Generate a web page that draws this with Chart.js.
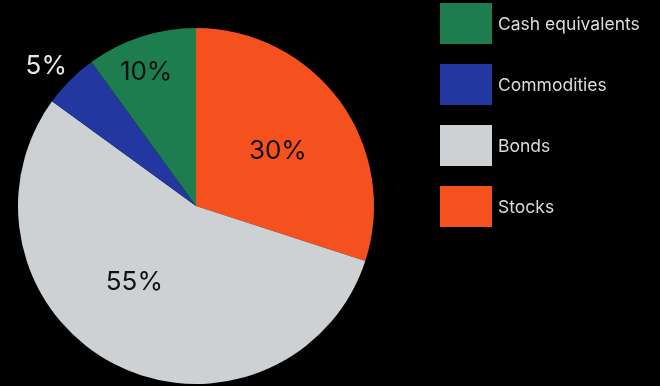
<!DOCTYPE html>
<html lang="en">
<head>
    <meta charset="UTF-8">
    <title>Asset Allocation Pie</title>
    <script src="https://cdn.jsdelivr.net/npm/chart.js"></script>
    <style>
        html, body { margin: 0; padding: 0; background: #000; }
        #wrap { width: 660px; height: 386px; }
    </style>
</head>
<body>
<div id="wrap"><canvas id="myChart" width="660" height="386"></canvas></div>
<script>
    // slices clockwise from 12 o'clock
    const categories = ['Stocks', 'Bonds', 'Commodities', 'Cash equivalents'];
    const shares = [30, 55, 5, 10];
    const sliceColors = ['#F5511F', '#CDD1D4', '#2238A0', '#1D7D4E'];
    // legend reads bottom-up compared to the slices
    const legendOrder = ['Cash equivalents', 'Commodities', 'Bonds', 'Stocks'];

    // where each % label sits: fraction of radius + angle nudge (deg), text colour
    const labelStyle = [
        { r: 0.555, shift: 2, color: '#111' },
        { r: 0.55, shift: 12, color: '#111' },
        { r: 1.15, shift: -2, color: '#E8E8E8' },
        { r: 0.80, shift: -2.5, color: '#111' }
    ];

    const pctLabels = {
        id: 'pctLabels',
        afterDatasetsDraw(chart) {
            const ctx = chart.ctx;
            const meta = chart.getDatasetMeta(0);
            ctx.save();
            ctx.font = '26px Inter, "Open Sans", sans-serif';
            ctx.textAlign = 'center';
            ctx.textBaseline = 'middle';
            meta.data.forEach((arc, i) => {
                const p = arc.getProps(['x', 'y', 'startAngle', 'endAngle', 'outerRadius'], true);
                const st = labelStyle[i];
                const a = (p.startAngle + p.endAngle) / 2 + st.shift * Math.PI / 180;
                const x = p.x + Math.cos(a) * p.outerRadius * st.r;
                const y = p.y + Math.sin(a) * p.outerRadius * st.r;
                ctx.fillStyle = st.color;
                ctx.fillText(shares[i] + '%', x, y);
            });
            ctx.restore();
        }
    };

    const boxLegend = {
        id: 'boxLegend',
        afterDraw(chart) {
            const ctx = chart.ctx;
            ctx.save();
            ctx.font = '17.5px Inter, "Open Sans", sans-serif';
            ctx.textBaseline = 'middle';
            legendOrder.forEach((name, k) => {
                const idx = categories.indexOf(name);
                const top = 3 + k * 61;
                ctx.fillStyle = sliceColors[idx];
                ctx.fillRect(440, top, 52, 41);
                ctx.fillStyle = '#DCDCDC';
                ctx.fillText(name, 498, top + 22);
            });
            ctx.restore();
        }
    };

    new Chart(document.getElementById('myChart'), {
        type: 'pie',
        data: {
            labels: categories,
            datasets: [{
                data: shares,
                backgroundColor: sliceColors,
                borderWidth: 0
            }]
        },
        options: {
            responsive: false,
            animation: false,
            layout: { padding: { left: 18, right: 286, top: 28, bottom: 2 } },
            plugins: {
                legend: { display: false },
                tooltip: { enabled: false }
            }
        },
        plugins: [pctLabels, boxLegend]
    });
</script>
</body>
</html>
